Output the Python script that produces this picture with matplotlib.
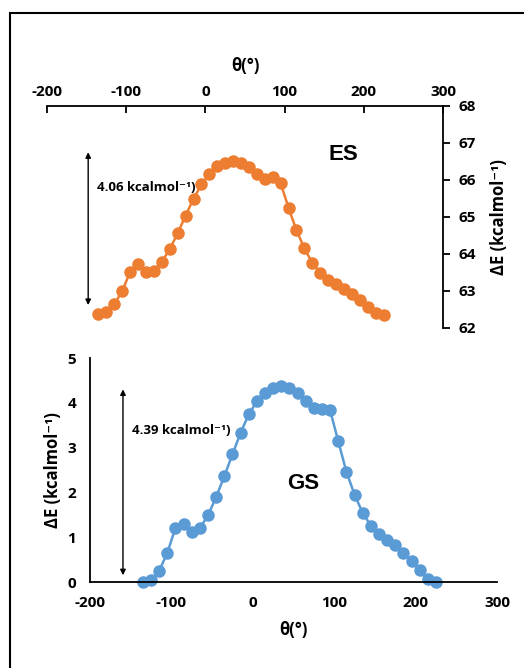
import numpy as np
import matplotlib.pyplot as plt
from matplotlib.patches import Rectangle

# dihedral angle, deg (same grid for both states)
theta = [-135, -125, -115, -105, -95, -85, -75, -65, -55, -45, -35, -25, -15, -5,
         5, 15, 25, 35, 45, 55, 65, 75, 85, 95, 105, 115, 125, 135, 145, 155,
         165, 175, 185, 195, 205, 215, 225]

# excited state energies
es_energy = [62.38, 62.43, 62.64, 63.00, 63.52, 63.73, 63.52, 63.55, 63.79, 64.13,
             64.56, 65.04, 65.49, 65.88, 66.15, 66.38, 66.47, 66.50, 66.45, 66.34,
             66.15, 66.04, 66.09, 65.91, 65.25, 64.64, 64.15, 63.76, 63.49, 63.29,
             63.18, 63.06, 62.93, 62.76, 62.58, 62.41, 62.36]

# ground state energies
gs_energy = [0.00, 0.04, 0.25, 0.65, 1.21, 1.29, 1.11, 1.20, 1.49, 1.90,
             2.36, 2.85, 3.33, 3.74, 4.03, 4.22, 4.33, 4.38, 4.33, 4.22,
             4.04, 3.89, 3.87, 3.83, 3.14, 2.46, 1.95, 1.54, 1.26, 1.08,
             0.94, 0.82, 0.65, 0.46, 0.26, 0.07, 0.00]

xticks = [-200, -100, 0, 100, 200, 300]

ORANGE = '#ED7D31'
BLUE = '#5B9BD5'

plt.rcParams['font.family'] = ['Open Sans', 'DejaVu Sans']
plt.rcParams['axes.unicode_minus'] = False

W, H = 524, 668
fig = plt.figure(figsize=(W / 100, H / 100), dpi=100)

# outer frame
fig.patches.append(Rectangle((10 / W, -0.05), 1.2, 1 - 13 / H + 0.05,
                             transform=fig.transFigure, fill=False,
                             edgecolor='black', linewidth=1.5))

YLAB = 'ΔE (kcalmol⁻¹)'

# ---------------- ES (top) ----------------
ax1 = fig.add_axes([47 / W, 1 - 328 / H, 396 / W, 222 / H])
ax1.plot(theta, es_energy, '-o', color=ORANGE, lw=1.8, ms=8, clip_on=False)
ax1.set_xlim(-200, 300)
ax1.set_ylim(62, 68)
ax1.spines['left'].set_visible(False)
ax1.spines['bottom'].set_visible(False)
ax1.spines['top'].set_linewidth(1.3)
ax1.spines['right'].set_linewidth(1.3)
ax1.xaxis.tick_top()
ax1.yaxis.tick_right()
ax1.set_xticks(xticks)
ax1.set_yticks(range(62, 69))
ax1.tick_params(axis='x', direction='in', length=5, width=1.3, pad=5)
ax1.tick_params(axis='y', direction='out', length=5, width=1.3, pad=6)
for lab in ax1.get_xticklabels() + ax1.get_yticklabels():
    lab.set_fontsize(11)
    lab.set_fontweight('bold')
ax1.xaxis.set_label_position('top')
ax1.set_xlabel('θ(°)', fontsize=12, fontweight='bold', labelpad=10)
ax1.yaxis.set_label_position('right')
ax1.set_ylabel(YLAB, fontsize=12, fontweight='bold', labelpad=10)

ax1.annotate('', xy=(-148, 66.75), xytext=(-148, 62.62),
             arrowprops=dict(arrowstyle='<|-|>', color='black', lw=1,
                             mutation_scale=8, shrinkA=0, shrinkB=0))
ax1.text(-137, 65.8, '4.06 kcalmol⁻¹)', fontsize=9.5,
         fontweight='bold', va='center', ha='left')
ax1.text(174, 66.68, 'ES', fontsize=16, fontweight='bold', ha='center',
         va='center', family='Liberation Sans')

# ---------------- GS (bottom) ----------------
ax2 = fig.add_axes([90 / W, 1 - 582 / H, 407 / W, 224 / H])
ax2.plot(theta, gs_energy, '-o', color=BLUE, lw=1.8, ms=8, clip_on=False)
ax2.set_xlim(-200, 300)
ax2.set_ylim(0, 5)
ax2.spines['top'].set_visible(False)
ax2.spines['right'].set_visible(False)
ax2.spines['left'].set_linewidth(1.3)
ax2.spines['bottom'].set_linewidth(1.3)
ax2.set_xticks(xticks)
ax2.set_yticks(range(0, 6))
ax2.tick_params(length=0, pad=10)
for lab in ax2.get_xticklabels() + ax2.get_yticklabels():
    lab.set_fontsize(11)
    lab.set_fontweight('bold')
ax2.set_xlabel('θ(°)', fontsize=12, fontweight='bold', labelpad=8)
ax2.set_ylabel(YLAB, fontsize=12, fontweight='bold', labelpad=4)

ax2.annotate('', xy=(-159.5, 4.3), xytext=(-159.5, 0.15),
             arrowprops=dict(arrowstyle='<|-|>', color='black', lw=1,
                             mutation_scale=8, shrinkA=0, shrinkB=0))
ax2.text(-148, 3.39, '4.39 kcalmol⁻¹)', fontsize=9.5,
         fontweight='bold', va='center', ha='left')
ax2.text(62, 2.2, 'GS', fontsize=16, fontweight='bold', ha='center',
         va='center', family='Liberation Sans')

fig.savefig('out.png', dpi=100)
